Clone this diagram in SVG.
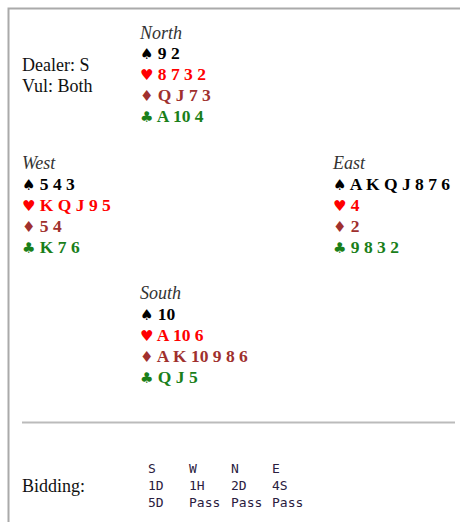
<svg xmlns="http://www.w3.org/2000/svg" width="460" height="522" viewBox="0 0 460 522">
<style>
.t{font-family:"Liberation Serif","Times New Roman",serif;font-size:18px;fill:#111}
.dir{font-family:"Liberation Serif","Times New Roman",serif;font-size:18px;font-style:italic;fill:#333}
.c{font-family:"Liberation Serif","Times New Roman",serif;font-size:17.5px;font-weight:bold}
.s{fill:#000}.h{fill:#ff0000}.d{fill:#a0302e}.k{fill:#1a7f1a}
.sym{font-family:"DejaVu Sans",sans-serif;font-size:15px;font-weight:normal}
.m{font-family:"DejaVu Sans Mono",monospace;font-size:13px;fill:#2a2040}
</style>
<g id="frame">
<path d="M8.5 522 V8.5 H460" fill="none" stroke="#aaa" stroke-width="2"/>
<line x1="22" y1="422.5" x2="455" y2="422.5" stroke="#bbb" stroke-width="2"/>
</g>
<g id="info">
<text class="t" x="22" y="71">Dealer: S</text>
<text class="t" x="22" y="92">Vul: Both</text>
</g>
<g id="north">
<text class="dir" x="140" y="39">North</text>
<text class="c s" x="140" y="59"><tspan class="sym">♠</tspan> 9 2</text>
<text class="c h" x="140" y="80"><tspan class="sym">♥</tspan> 8 7 3 2</text>
<text class="c d" x="140" y="101"><tspan class="sym">♦</tspan> Q J 7 3</text>
<text class="c k" x="140" y="122"><tspan class="sym">♣</tspan> A 10 4</text>
</g>
<g id="west">
<text class="dir" x="22" y="169">West</text>
<text class="c s" x="22" y="190"><tspan class="sym">♠</tspan> 5 4 3</text>
<text class="c h" x="22" y="211"><tspan class="sym">♥</tspan> K Q J 9 5</text>
<text class="c d" x="22" y="232"><tspan class="sym">♦</tspan> 5 4</text>
<text class="c k" x="22" y="253"><tspan class="sym">♣</tspan> K 7 6</text>
</g>
<g id="east">
<text class="dir" x="333" y="169">East</text>
<text class="c s" x="333" y="190"><tspan class="sym">♠</tspan> A K Q J 8 7 6</text>
<text class="c h" x="333" y="211"><tspan class="sym">♥</tspan> 4</text>
<text class="c d" x="333" y="232"><tspan class="sym">♦</tspan> 2</text>
<text class="c k" x="333" y="253"><tspan class="sym">♣</tspan> 9 8 3 2</text>
</g>
<g id="south">
<text class="dir" x="140" y="299">South</text>
<text class="c s" x="140" y="320"><tspan class="sym">♠</tspan> 10</text>
<text class="c h" x="140" y="341"><tspan class="sym">♥</tspan> A 10 6</text>
<text class="c d" x="140" y="362"><tspan class="sym">♦</tspan> A K 10 9 8 6</text>
<text class="c k" x="140" y="383"><tspan class="sym">♣</tspan> Q J 5</text>
</g>
<g id="bidding">
<text class="t" x="22" y="492">Bidding:</text>
<text class="m" y="473"><tspan x="148">S</tspan><tspan x="189">W</tspan><tspan x="231">N</tspan><tspan x="272">E</tspan></text>
<text class="m" y="490"><tspan x="148">1D</tspan><tspan x="189">1H</tspan><tspan x="231">2D</tspan><tspan x="272">4S</tspan></text>
<text class="m" y="507"><tspan x="148">5D</tspan><tspan x="189">Pass</tspan><tspan x="231">Pass</tspan><tspan x="272">Pass</tspan></text>
</g>
</svg>
